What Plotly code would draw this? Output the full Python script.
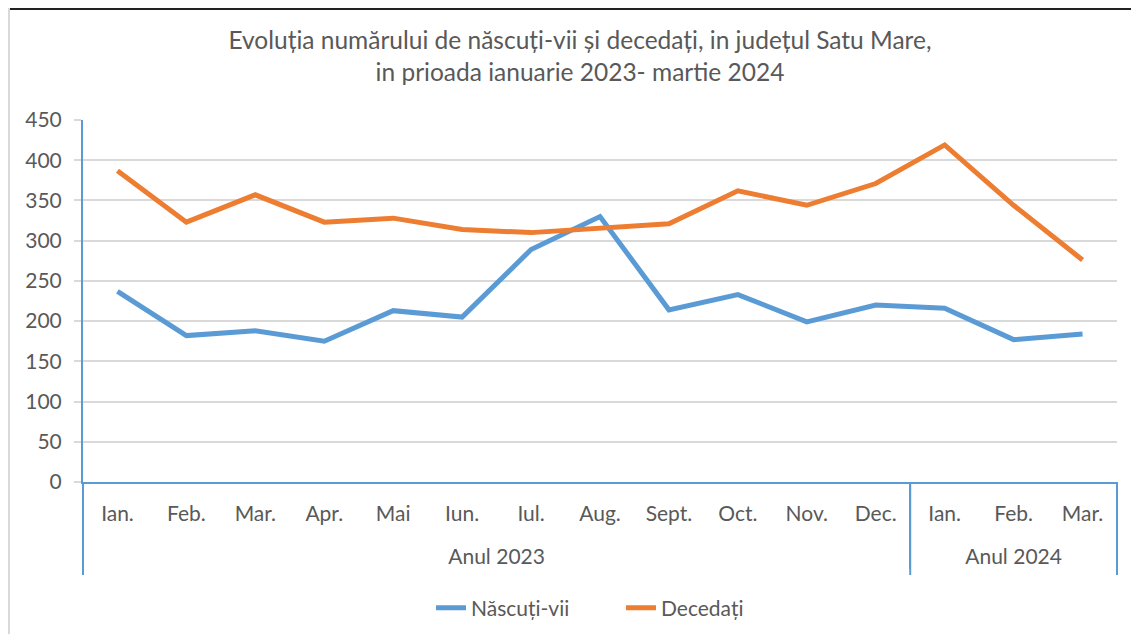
import plotly.graph_objects as go

years = ["<br>Anul 2023"] * 12 + ["<br>Anul 2024"] * 3
months = ["Ian.", "Feb.", "Mar.", "Apr.", "Mai", "Iun.", "Iul.", "Aug.", "Sept.",
          "Oct.", "Nov.", "Dec.", "Ian.", "Feb.", "Mar."]
nascuti_vii = [237, 182, 188, 175, 213, 205, 289, 330, 214, 233, 199, 220, 216, 177, 184]
decedati = [387, 323, 357, 323, 328, 314, 310, 315, 321, 362, 344, 371, 419, 344, 276]

FONT = "Lato"
TXT = "#595959"
BLUE = "#5B9BD5"
ORANGE = "#ED7D31"

OFF = 8  # page offset of the figure
W, H = 1123, 626
L, T, R, B = 75, 112, 14, 152
PW, PH = W - L - R, H - T - B

fig = go.Figure()
fig.add_trace(go.Scatter(x=[years, months], y=nascuti_vii, name="Născuți-vii",
                         mode="lines", line=dict(color=BLUE, width=5)))
fig.add_trace(go.Scatter(x=[years, months], y=decedati, name="Decedați",
                         mode="lines", line=dict(color=ORANGE, width=5)))

div_depth = -93 / PH
shapes = [
    dict(type="line", xref="paper", yref="paper", x0=xx, x1=xx, y0=0, y1=div_depth,
         line=dict(color=BLUE, width=2))
    for xx in (0, 12 / 15, 1)
]
shapes += [
    dict(type="line", xref="paper", yref="paper", x0=-L / PW, x1=1 + R / PW,
         y0=1 + (T - 1) / PH, y1=1 + (T - 1) / PH, line=dict(color="#222222", width=2)),
    dict(type="line", xref="paper", yref="paper", x0=-(L - 1) / PW, x1=-(L - 1) / PW,
         y0=1 + T / PH, y1=-B / PH, line=dict(color="#D9D9D9", width=2)),
]

fig.update_layout(
    width=W, height=H,
    margin=dict(l=L, r=R, t=T, b=B),
    paper_bgcolor="white", plot_bgcolor="white",
    font=dict(family=FONT, size=21, color=TXT),
    title=dict(text="Evoluția numărului de născuți-vii și decedați, in județul Satu Mare,<br>in prioada ianuarie 2023- martie 2024",
               x=(580 - OFF) / W, xanchor="center", xref="container",
               y=1 - (49 - OFF) / H, yanchor="middle", yref="container",
               font=dict(family=FONT, size=24.5, color=TXT)),
    showlegend=True,
    legend=dict(orientation="h", xref="container", yref="container",
                x=(621 - OFF) / W, xanchor="center", y=1 - (608 - OFF) / H,
                yanchor="middle", font=dict(family=FONT, size=21, color=TXT),
                entrywidth=145),
    xaxis=dict(type="multicategory", range=[-0.5, 14.5], showline=True, linecolor=BLUE,
               linewidth=2, showgrid=False, ticks="", ticklabelstandoff=12,
               showdividers=True, dividercolor=BLUE,
               dividerwidth=2, tickfont=dict(family=FONT, size=21, color=TXT)),
    yaxis=dict(range=[0, 450], dtick=50, showgrid=True, gridcolor="#D9D9D9", gridwidth=1.5,
               showline=True, linecolor=BLUE, linewidth=2, zeroline=False,
               ticks="outside", ticklen=7, tickcolor="#D9D9D9", tickwidth=1.5,
               ticklabelstandoff=8,
               tickfont=dict(family=FONT, size=21, color=TXT)),
    shapes=shapes,
)

fig.write_html("out.html")
